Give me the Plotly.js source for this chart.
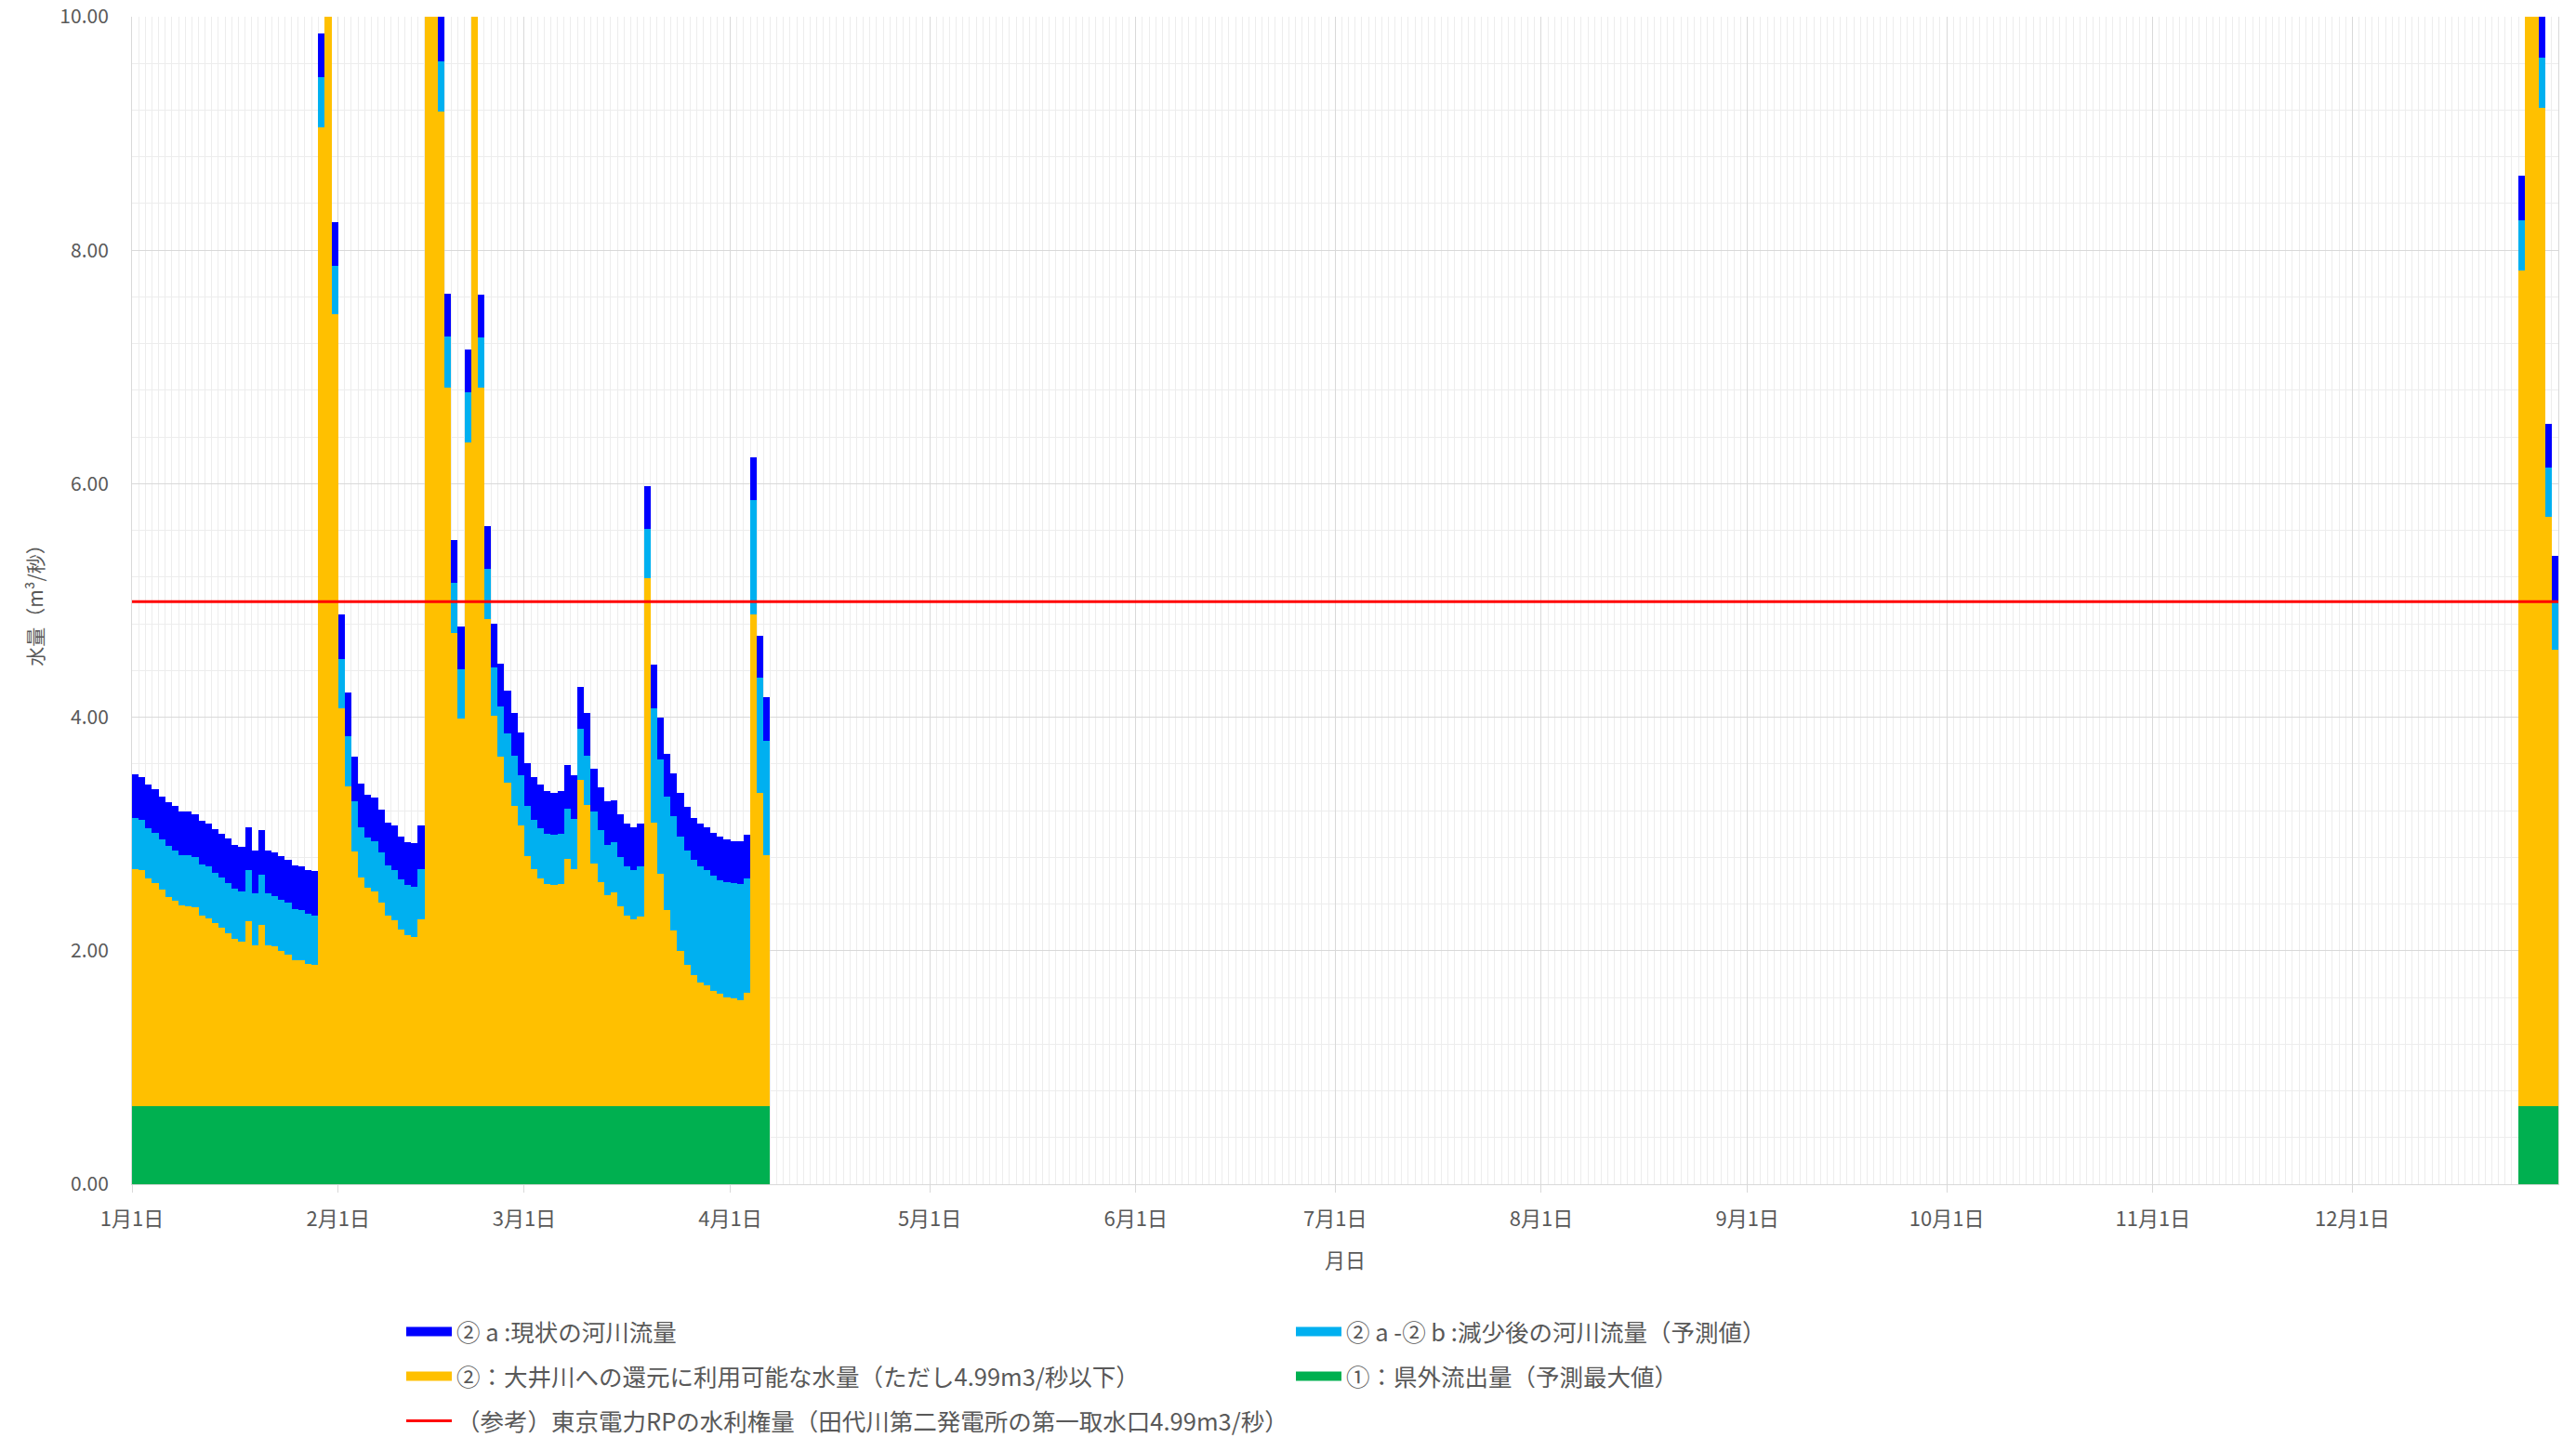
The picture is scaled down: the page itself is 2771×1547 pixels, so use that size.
<!DOCTYPE html>
<html><head><meta charset="utf-8">
<script src="https://cdn.plot.ly/plotly-3.0.1.min.js"></script>
<style>html,body{margin:0;padding:0;background:#fff;}#chart{width:2771px;height:1547px;}</style>
</head><body><div id="chart"></div>
<script>
// ---- categories (days with data) ----
const springStart = '2023-01-01', springDays = 96;   // Jan 1 – Apr 6
const winterStart = '2023-12-26', winterDays = 6;    // Dec 26 – Dec 31

// ---- series (segment heights, m3/s) ----
const greenOut = [0.67,0.67,0.67,0.67,0.67,0.67,0.67,0.67,0.67,0.67,0.67,0.67,0.67,0.67,0.67,0.67,0.67,0.67,0.67,0.67,0.67,0.67,0.67,0.67,0.67,0.67,0.67,0.67,0.67,0.67,0.67,
 0.67,0.67,0.67,0.67,0.67,0.67,0.67,0.67,0.67,0.67,0.67,0.67,0.67,0.67,0.67,0.67,0.67,0.67,0.67,0.67,0.67,0.67,0.67,0.67,0.67,0.67,0.67,0.67,
 0.67,0.67,0.67,0.67,0.67,0.67,0.67,0.67,0.67,0.67,0.67,0.67,0.67,0.67,0.67,0.67,0.67,0.67,0.67,0.67,0.67,0.67,0.67,0.67,0.67,0.67,0.67,0.67,0.67,0.67,0.67,
 0.67,0.67,0.67,0.67,0.67,0.67,
 0.67,0.67,0.67,0.67,0.67,0.67];
const yellowAvail = [2.03,2.02,1.95,1.91,1.85,1.79,1.76,1.72,1.71,1.70,1.63,1.61,1.57,1.53,1.48,1.43,1.41,1.58,1.38,1.55,1.38,1.37,1.33,1.30,1.25,1.25,1.22,1.21,8.38,10.53,6.78,
 3.41,2.74,2.18,1.96,1.87,1.84,1.74,1.63,1.59,1.51,1.46,1.45,1.60,12.53,11.03,8.52,6.15,4.05,3.32,5.68,10.03,6.15,4.17,3.34,2.99,2.77,2.57,2.40,
 2.14,2.03,1.95,1.90,1.89,1.90,2.12,2.03,2.79,2.58,2.08,1.92,1.81,1.83,1.71,1.63,1.60,1.62,4.52,2.43,1.99,1.68,1.50,1.33,1.21,1.12,1.06,1.03,0.99,0.96,0.93,
 0.92,0.91,0.97,4.21,2.68,2.15,
 7.16,10.53,9.93,8.55,5.05,3.91];
const lightReduced = [0.44,0.43,0.43,0.43,0.43,0.44,0.43,0.43,0.44,0.43,0.44,0.44,0.43,0.43,0.43,0.43,0.43,0.44,0.44,0.43,0.44,0.43,0.44,0.44,0.44,0.43,0.43,0.42,0.43,0.43,0.42,
 0.42,0.43,0.43,0.43,0.43,0.43,0.43,0.43,0.43,0.43,0.43,0.43,0.43,0.43,0.43,0.43,0.44,0.43,0.42,0.43,0.43,0.43,0.43,0.42,0.43,0.42,0.43,0.43,
 0.43,0.42,0.43,0.43,0.43,0.43,0.43,0.43,0.44,0.42,0.44,0.44,0.43,0.43,0.42,0.42,0.42,0.43,0.42,0.98,0.98,0.97,0.98,0.98,0.98,0.99,0.99,0.99,0.98,0.97,0.99,
 0.99,0.99,0.98,0.98,0.99,0.98,
 0.43,0.43,0.43,0.43,0.42,0.41];
const darkCurrent = [0.37,0.37,0.37,0.37,0.37,0.37,0.38,0.37,0.37,0.37,0.37,0.37,0.37,0.37,0.38,0.38,0.38,0.37,0.37,0.38,0.37,0.37,0.37,0.37,0.37,0.37,0.37,0.38,0.38,0.37,0.37,
 0.38,0.37,0.38,0.37,0.37,0.37,0.37,0.37,0.38,0.37,0.37,0.37,0.37,0.37,0.37,0.38,0.37,0.37,0.37,0.37,0.37,0.37,0.37,0.37,0.37,0.37,0.37,0.37,
 0.37,0.37,0.37,0.37,0.36,0.37,0.37,0.37,0.36,0.37,0.37,0.37,0.37,0.36,0.37,0.37,0.37,0.37,0.37,0.37,0.36,0.37,0.37,0.37,0.37,0.36,0.37,0.37,0.37,0.38,0.36,
 0.36,0.37,0.37,0.37,0.36,0.37,
 0.38,0.37,0.37,0.38,0.37,0.39];

// reference line (water right)
const refX = ['2023-01-01', '2024-01-01'];
const refLevel = [4.99, 4.99];

// tick labels
const monthTicks = ['2023-01-01','2023-02-01','2023-03-01','2023-04-01','2023-05-01','2023-06-01','2023-07-01','2023-08-01','2023-09-01','2023-10-01','2023-11-01','2023-12-01'];
const monthLabels = ['1月1日','2月1日','3月1日','4月1日','5月1日','6月1日','7月1日','8月1日','9月1日','10月1日','11月1日','12月1日'];

const names = {
  dark: '② a :現状の河川流量',
  light: '② a -② b :減少後の河川流量（予測値）',
  yellow: '②：大井川への還元に利用可能な水量（ただし4.99m3/秒以下）',
  green: '①：県外流出量（予測最大値）',
  red: '（参考）東京電力RPの水利権量（田代川第二発電所の第一取水口4.99m3/秒）'
};
const colors = {dark: '#0000FF', light: '#00B0F0', yellow: '#FFC000', green: '#00B050', red: '#FF0000'};

function dayRange(start, n) {
  const out = [];
  const d0 = new Date(start + 'T00:00:00Z');
  for (let i = 0; i < n; i++) {
    const d = new Date(d0.getTime() + i * 86400000);
    out.push(d.toISOString().slice(0, 10));
  }
  return out;
}
const days = dayRange(springStart, springDays).concat(dayRange(winterStart, winterDays));

const DAY = 86400000;
function barTrace(y, key) {
  return {type: 'bar', x: days, y: y, name: names[key], showlegend: false,
    xperiod: DAY, xperiodalignment: 'middle',
    marker: {color: colors[key], line: {width: 0}}, hoverinfo: 'skip'};
}
// legend entries drawn as wide swatches (like the reference's rectangles)
function legendKey(key, legend) {
  return {type: 'scatter', mode: 'lines', x: [null], y: [null], name: names[key],
    legend: legend, showlegend: true, hoverinfo: 'skip',
    line: {color: colors[key], width: 14}};
}

const traces = [
  barTrace(greenOut, 'green'),
  barTrace(yellowAvail, 'yellow'),
  barTrace(lightReduced, 'light'),
  barTrace(darkCurrent, 'dark'),
  {type: 'scatter', mode: 'lines', x: refX, y: refLevel, name: names.red, legend: 'legend5',
   line: {color: colors.red, width: 3}, hoverinfo: 'skip', cliponaxis: false},
  legendKey('dark', 'legend'),
  legendKey('light', 'legend2'),
  legendKey('yellow', 'legend3'),
  legendKey('green', 'legend4')
];

const L = 142, R = 19, T = 18, B = 273;
const W = 2771, H = 1547;
const legFont = {family: '"Noto Sans CJK JP", sans-serif', size: 25.5, color: '#595959'};
function leg(xpx, ypx) {
  return {xref: 'container', yref: 'container', x: xpx / W, y: 1 - ypx / H,
          xanchor: 'left', yanchor: 'middle', orientation: 'h', itemwidth: 49,
          font: legFont, bgcolor: 'rgba(0,0,0,0)', borderwidth: 0};
}

const layout = {
  width: W, height: H,
  margin: {l: L, r: R, t: T, b: B, pad: 0, autoexpand: false},
  barmode: 'stack', bargap: 0,
  paper_bgcolor: '#ffffff', plot_bgcolor: '#ffffff',
  font: {family: '"Noto Sans CJK JP", sans-serif', color: '#595959', size: 21},
  showlegend: true,
  legend: leg(432, 1433),
  legend2: leg(1389, 1433),
  legend3: leg(432, 1481),
  legend4: leg(1389, 1481),
  legend5: leg(432, 1529),
  xaxis: {
    type: 'date', range: ['2023-01-01', '2024-01-01'],
    tickmode: 'array', tickvals: monthTicks, ticktext: monthLabels,
    showgrid: true, gridcolor: '#d9d9d9', gridwidth: 1,
    ticks: 'outside', ticklen: 8, tickcolor: '#d9d9d9', tickwidth: 1,
    showline: true, linecolor: '#d9d9d9', linewidth: 1,
    zeroline: false, automargin: false, ticklabelstandoff: 10,
    tickfont: {size: 22, color: '#595959'},
    minor: {dtick: DAY, tick0: '2023-01-01', showgrid: true, gridcolor: '#ededed', gridwidth: 1, ticks: ''},
    title: {text: '月日', font: {size: 22, color: '#595959'}, standoff: 24}
  },
  yaxis: {
    range: [0, 10], tick0: 0, dtick: 2, tickformat: '.2f',
    showgrid: true, gridcolor: '#d9d9d9', gridwidth: 1,
    minor: {dtick: 0.4, tick0: 0, showgrid: true, gridcolor: '#ededed', gridwidth: 1, ticks: ''},
    showline: true, mirror: true, linecolor: '#d9d9d9', linewidth: 1,
    zeroline: false, ticks: '', automargin: false, ticklabelstandoff: 20,
    tickfont: {size: 21, color: '#595959'},
    title: {text: '水量（m³/秒）', font: {size: 21, color: '#595959'}, standoff: 11}
  }
};

Plotly.newPlot('chart', traces, layout, {displayModeBar: false, staticPlot: true});
</script></body></html>
